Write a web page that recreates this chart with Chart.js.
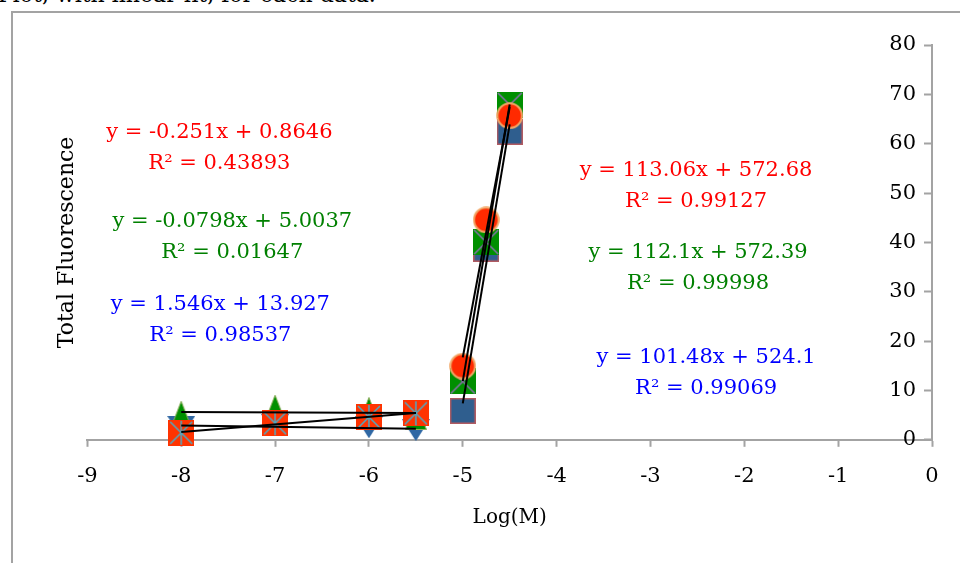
<!DOCTYPE html>
<html>
<head>
<meta charset="utf-8">
<script src="https://cdn.jsdelivr.net/npm/chart.js@4.4.0/dist/chart.umd.min.js"></script>
<style>
  html, body { margin: 0; padding: 0; background: #fff; overflow: hidden; }
  #page { position: relative; width: 960px; height: 563px; overflow: hidden; background: #fff; }
  #caption { position: absolute; left: -2px; top: -16.5px; font: 22px/22px "DejaVu Serif", serif; color: #000; white-space: nowrap; }
  #frame { position: absolute; left: 11px; top: 11px; width: 1000px; height: 600px;
           border-left: 2px solid #a3a3a3; border-top: 2px solid #a3a3a3; }
  canvas { position: absolute; left: 0; top: 0; }
</style>
</head>
<body>
<div id="page">
  <div id="caption">Plot, with linear fit, for each data.</div>
  <div id="frame"></div>
  <canvas id="chart" width="960" height="563"></canvas>
</div>
<script>
// Log of molar concentration, low and high ranges
const logLow = [-8, -7, -6, -5.5];
const logHigh = [-5, -4.75, -4.5];

// Total fluorescence, low range
const greenTriangles = [5.10, 6.33, 5.86, 4.83];
const blueTriangles = [2.62, 2.98, 2.54, 1.97];
const redStarSquares = [1.42, 3.35, 4.62, 5.36];

// Total fluorescence, high range
const blueSquares = [5.86, 38.71, 62.39];
const greenCrossSquares = [11.82, 40.06, 67.87];
const redCircles = [14.94, 44.57, 65.68];

// Linear trendlines: slope, intercept and R² as printed beside the plot
const fitSlopes = [-0.251, -0.0798, 1.546, 113.06, 112.1, 101.48];
const fitIntercepts = [0.8646, 5.0037, 13.927, 572.68, 572.39, 524.1];
const fitR2 = [0.43893, 0.01647, 0.98537, 0.99127, 0.99998, 0.99069];

// Axis ticks
const xTicks = [-9, -8, -7, -6, -5, -4, -3, -2, -1, 0];
const yTicks = [0, 10, 20, 30, 40, 50, 60, 70, 80];

// Which x values / readings each trendline was fitted to
const fitSources = [
  [logLow, blueTriangles],
  [logLow, greenTriangles],
  [logLow, redStarSquares],
  [logHigh, blueSquares],
  [logHigh, greenCrossSquares],
  [logHigh, redCircles]
];
const fitColors = ['#ff0000', '#008000', '#0000ff', '#ff0000', '#008000', '#0000ff'];
// Equation label anchors (data units) for each fit
const labelAnchors = [[-7.594, 62.32], [-7.456, 44.29], [-7.583, 27.48],
                      [-2.514, 54.62], [-2.493, 38.02], [-2.407, 16.75]];

// ---- marker glyphs ----
function glyph(w, h, draw) {
  const c = document.createElement('canvas');
  c.width = w; c.height = h;
  draw(c.getContext('2d'), w, h);
  return c;
}
const mkBlueSquare = glyph(26, 26, (g, w, h) => {
  g.fillStyle = '#2f5e8e'; g.fillRect(0, 0, w, h);
  g.strokeStyle = 'rgba(200,90,90,0.85)'; g.lineWidth = 1.5; g.strokeRect(0.75, 0.75, w - 1.5, h - 1.5);
});
const mkGreenCross = glyph(26, 26, (g, w, h) => {
  g.fillStyle = '#008f00'; g.fillRect(0, 0, w, h);
  g.strokeStyle = '#8a6fb0'; g.lineWidth = 1.5;
  g.beginPath(); g.moveTo(1, 1); g.lineTo(w - 1, h - 1); g.moveTo(w - 1, 1); g.lineTo(1, h - 1); g.stroke();
});
const mkRedCircle = glyph(27, 27, (g, w, h) => {
  g.fillStyle = '#ff2a00'; g.strokeStyle = '#f2a868'; g.lineWidth = 2;
  g.beginPath(); g.arc(w / 2, h / 2, w / 2 - 1.2, 0, Math.PI * 2); g.fill(); g.stroke();
});
const mkRedStar = glyph(26, 26, (g, w, h) => {
  g.fillStyle = '#ff3300'; g.fillRect(0, 0, w, h);
  g.strokeStyle = '#4bacc6'; g.lineWidth = 1.5;
  g.beginPath();
  g.moveTo(2, 2); g.lineTo(w - 2, h - 2); g.moveTo(w - 2, 2); g.lineTo(2, h - 2);
  g.moveTo(w / 2, 1); g.lineTo(w / 2, h - 1);
  g.stroke();
});
const mkBlueDown = glyph(28, 22, (g, w, h) => {
  g.fillStyle = '#2f67a3';
  g.beginPath(); g.moveTo(0, 0); g.lineTo(w, 0); g.lineTo(w / 2, h); g.closePath(); g.fill();
});
const mkGreenUp = glyph(22, 28, (g, w, h) => {
  g.fillStyle = '#008f00'; g.strokeStyle = '#8fb060'; g.lineWidth = 1;
  g.beginPath(); g.moveTo(w / 2, 0.5); g.lineTo(w - 0.5, h - 0.5); g.lineTo(0.5, h - 0.5); g.closePath(); g.fill(); g.stroke();
});

const pts = (xs, ys) => xs.map((x, i) => ({ x: x, y: ys[i] }));

function markerSet(xs, ys, img, order) {
  return { data: pts(xs, ys), pointStyle: img, pointRadius: 13, showLine: false, clip: false, order: order };
}

const datasets = [];
// trendlines: drawn from the printed slope/intercept across each fitted range
fitSources.forEach(([xs], i) => {
  const x0 = Math.min(...xs), x1 = Math.max(...xs);
  datasets.push({
    data: [{ x: x0, y: fitSlopes[i] * x0 + fitIntercepts[i] }, { x: x1, y: fitSlopes[i] * x1 + fitIntercepts[i] }],
    showLine: true, borderColor: '#000', borderWidth: 2, pointRadius: 0, clip: false, order: 0
  });
});
datasets.push(markerSet(logLow, redStarSquares, mkRedStar, 1));
datasets.push(markerSet(logHigh, redCircles, mkRedCircle, 1));
datasets.push(markerSet(logLow, greenTriangles, mkGreenUp, 2));
datasets.push(markerSet(logHigh, greenCrossSquares, mkGreenCross, 2));
datasets.push(markerSet(logLow, blueTriangles, mkBlueDown, 3));
datasets.push(markerSet(logHigh, blueSquares, mkBlueSquare, 3));

const fitLabels = {
  id: 'fitLabels',
  afterDatasetsDraw(chart) {
    const { ctx, scales: { x, y } } = chart;
    ctx.save();
    ctx.font = '21px "DejaVu Serif"';
    ctx.textAlign = 'center';
    ctx.textBaseline = 'middle';
    labelAnchors.forEach((a, i) => {
      const px = x.getPixelForValue(a[0]);
      const py = y.getPixelForValue(a[1]);
      ctx.fillStyle = fitColors[i];
      ctx.fillText('y = ' + fitSlopes[i] + 'x + ' + fitIntercepts[i], px, py);
      ctx.fillText('R\u00b2 = ' + fitR2[i], px, py + 31);
    });
    ctx.restore();
  }
};

const axisGray = '#a3a3a3';
const tickFont = { family: 'DejaVu Serif', size: 21 };
const yTickSetter = s => { s.ticks = yTicks.map(v => ({ value: v })); };

new Chart(document.getElementById('chart'), {
  type: 'scatter',
  data: { datasets: datasets },
  plugins: [fitLabels],
  options: {
    responsive: false,
    animation: false,
    devicePixelRatio: 1,
    events: [],
    layout: { padding: { left: 54, right: 28, top: 45, bottom: 33 } },
    plugins: { legend: { display: false }, tooltip: { enabled: false } },
    scales: {
      x: {
        type: 'linear', position: 'bottom', min: -9, max: 0,
        afterBuildTicks: s => { s.ticks = xTicks.map(v => ({ value: v })); },
        ticks: { color: '#000', font: tickFont, padding: 17, autoSkip: false, maxRotation: 0 },
        grid: { drawOnChartArea: false, drawTicks: true, tickLength: 7, tickColor: axisGray, tickWidth: 2, color: axisGray },
        border: { color: axisGray, width: 2 },
        title: { display: true, text: 'Log(M)', color: '#000', font: { family: 'DejaVu Serif', size: 20 }, padding: { top: 0, bottom: 0 } }
      },
      // axis line and inward tick marks at x = 0
      y: {
        type: 'linear', position: { x: 0 }, min: 0, max: 80,
        afterBuildTicks: yTickSetter,
        ticks: { display: false },
        grid: { drawOnChartArea: false, drawTicks: true, tickLength: 7, tickColor: axisGray, tickWidth: 2, color: axisGray },
        border: { color: axisGray, width: 2 }
      },
      // value labels, set just inside the right-hand axis
      yLab: {
        type: 'linear', axis: 'y', position: 'right', min: 0, max: 80, display: true,
        afterBuildTicks: yTickSetter,
        ticks: { color: '#000', font: tickFont, mirror: true, padding: -16 },
        grid: { display: false, drawTicks: false },
        border: { display: false }
      },
      yTitle: {
        type: 'linear', axis: 'y', position: 'left', min: 0, max: 80, display: true,
        ticks: { display: false },
        grid: { display: false, drawTicks: false },
        border: { display: false },
        title: { display: true, text: 'Total Fluorescence', color: '#000', font: { family: 'DejaVu Serif', size: 22 }, padding: { top: 0, bottom: 7 } }
      }
    }
  }
});
</script>
</body>
</html>
